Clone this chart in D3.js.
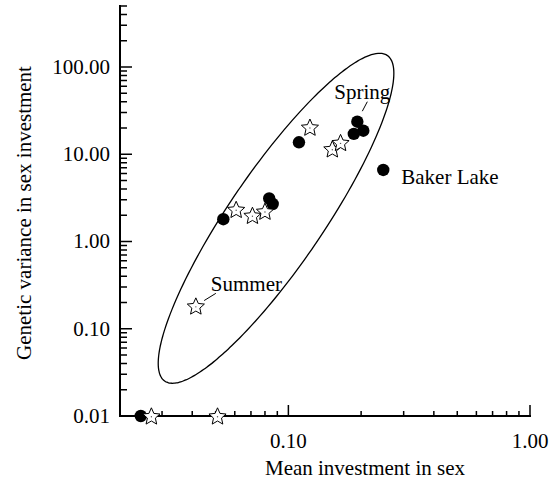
<!DOCTYPE html>
<html>
<head>
<meta charset="utf-8">
<script src="https://cdn.jsdelivr.net/npm/d3@7"></script>
<style>
  html, body { margin: 0; padding: 0; background: #fff; }
  svg { display: block; }
  text { font-family: "Liberation Serif", "Times New Roman", serif; fill: #000; }
</style>
</head>
<body>
<svg id="chart" width="559" height="483"></svg>
<script>
// Spring samples (filled circles): mean investment in sex vs genetic variance
const springInvestment = [0.0245, 0.0538, 0.0833, 0.0861, 0.1106, 0.1929, 0.2042, 0.1866, 0.247];
const springVariance   = [0.01, 1.80, 3.11, 2.69, 13.7, 23.6, 18.6, 17.1, 6.60];

// Summer samples (open stars)
const summerInvestment = [0.0271, 0.0509, 0.0414, 0.0608, 0.0710, 0.0800, 0.1228, 0.152, 0.1644];
const summerVariance   = [0.01, 0.01, 0.182, 2.33, 1.99, 2.22, 20.4, 11.5, 13.6];

// Axis ticks
const xMajorTicks = [0.1, 1];
const xTickLabels = ["0.10", "1.00"];
const yMajorTicks = [0.01, 0.1, 1, 10, 100];
const yTickLabels = ["0.01", "0.10", "1.00", "10.00", "100.00"];
const xMinorTicks = [0.03, 0.04, 0.05, 0.06, 0.07, 0.08, 0.09, 0.2, 0.3, 0.4, 0.5, 0.6, 0.7, 0.8, 0.9];
const yMinorTicks = [0.02, 0.03, 0.04, 0.05, 0.06, 0.07, 0.08, 0.09,
                     0.2, 0.3, 0.4, 0.5, 0.6, 0.7, 0.8, 0.9,
                     2, 3, 4, 5, 6, 7, 8, 9,
                     20, 30, 40, 50, 60, 70, 80, 90,
                     200, 300, 400, 500];

// Confidence ellipse in log10 units: centre and Cholesky factor rows
const ellipseCentre = [0.0889, 1.845];
const ellipseAxisX = [0.4876, 0];
const ellipseAxisY = [1.662, 0.902];

const svg = d3.select("#chart");
const x = d3.scaleLog().domain([0.02, 1]).range([119.5, 530]);
const y = d3.scaleLog().domain([0.01, 500]).range([416, 6]);

// Ellipse path
const ellipsePts = d3.range(0, 360, 2).map(a => {
  const t = a * Math.PI / 180;
  const lx = Math.log10(ellipseCentre[0]) + ellipseAxisX[0] * Math.cos(t) + ellipseAxisX[1] * Math.sin(t);
  const ly = Math.log10(ellipseCentre[1]) + ellipseAxisY[0] * Math.cos(t) + ellipseAxisY[1] * Math.sin(t);
  return [x(Math.pow(10, lx)), y(Math.pow(10, ly))];
});
svg.append("path")
  .attr("d", d3.line().curve(d3.curveCardinalClosed)(ellipsePts))
  .attr("fill", "none").attr("stroke", "#000").attr("stroke-width", 1.3);

// Axis lines
const x0 = 120, y0 = 416;
svg.append("path")
  .attr("d", `M${x0},${y(500) - 1}V${y0}H${x(1) + 1}`)
  .attr("fill", "none").attr("stroke", "#000").attr("stroke-width", 2);

// Tick marks, drawn inward from each axis
const tickPath = (vals, fn) => vals.map(fn).join("");
svg.append("path")
  .attr("d", tickPath(xMinorTicks, v => `M${x(v)},${y0}v-5`) +
             tickPath(xMajorTicks, v => `M${x(v)},${y0}v-11`) +
             tickPath(yMinorTicks, v => `M${x0},${y(v)}h7`) +
             tickPath(yMajorTicks.slice(1), v => `M${x0},${y(v)}h12`))
  .attr("fill", "none").attr("stroke", "#000").attr("stroke-width", 1.5);

// Tick labels
svg.append("g").selectAll("text").data(xMajorTicks).join("text")
  .attr("x", d => x(d)).attr("y", y0 + 32).attr("text-anchor", "middle")
  .attr("font-size", 21).text((d, i) => xTickLabels[i]);
svg.append("g").selectAll("text").data(yMajorTicks).join("text")
  .attr("x", x0 - 10).attr("y", d => y(d) + 7).attr("text-anchor", "end")
  .attr("font-size", 21).text((d, i) => yTickLabels[i]);

// Axis titles
svg.append("text").attr("x", 365).attr("y", 475).attr("text-anchor", "middle")
  .attr("font-size", 21).text("Mean investment in sex");
svg.append("text").attr("transform", "translate(31,213) rotate(-90)")
  .attr("text-anchor", "middle").attr("font-size", 21)
  .text("Genetic variance in sex investment");

// Points
const spring = springInvestment.map((v, i) => ({ x: v, y: springVariance[i] }));
const summer = summerInvestment.map((v, i) => ({ x: v, y: summerVariance[i] }));

svg.append("g").selectAll("circle").data(spring).join("circle")
  .attr("cx", d => x(d.x)).attr("cy", d => y(d.y)).attr("r", 6.2).attr("fill", "#000");

const starPath = (() => {
  const pts = d3.range(10).map(i => {
    const r = i % 2 === 0 ? 9.0 : 4.2;
    const a = -Math.PI / 2 + i * Math.PI / 5;
    return [r * Math.cos(a), r * Math.sin(a)];
  });
  return d3.line()(pts) + "Z";
})();
const starG = svg.append("g").selectAll("g").data(summer).join("g")
  .attr("transform", d => `translate(${x(d.x)},${y(d.y) + 0.8})`);
starG.append("path").attr("d", starPath).attr("fill", "#fff")
  .attr("stroke", "#000").attr("stroke-width", 1).attr("stroke-linejoin", "miter");
starG.append("circle").attr("r", 0.7).attr("fill", "#555");

// Annotations
const pSpring = spring[5], pBaker = spring[8], pSummer = summer[2];
svg.append("text").attr("x", x(pSpring.x) - 23).attr("y", y(pSpring.y) - 23)
  .attr("font-size", 21).text("Spring");
svg.append("line")
  .attr("x1", x(pSpring.x) + 10).attr("y1", y(pSpring.y) - 20)
  .attr("x2", x(pSpring.x) + 5).attr("y2", y(pSpring.y) - 10.5)
  .attr("stroke", "#000").attr("stroke-width", 1);
svg.append("text").attr("x", x(pBaker.x) + 18).attr("y", y(pBaker.y) + 14)
  .attr("font-size", 21).text("Baker Lake");
svg.append("text").attr("x", x(pSummer.x) + 15).attr("y", y(pSummer.y) - 15)
  .attr("font-size", 21).text("Summer");
svg.append("line")
  .attr("x1", x(pSummer.x) + 20).attr("y1", y(pSummer.y) - 12.7)
  .attr("x2", x(pSummer.x) + 8.3).attr("y2", y(pSummer.y) - 5.5)
  .attr("stroke", "#000").attr("stroke-width", 1);
</script>
</body>
</html>
